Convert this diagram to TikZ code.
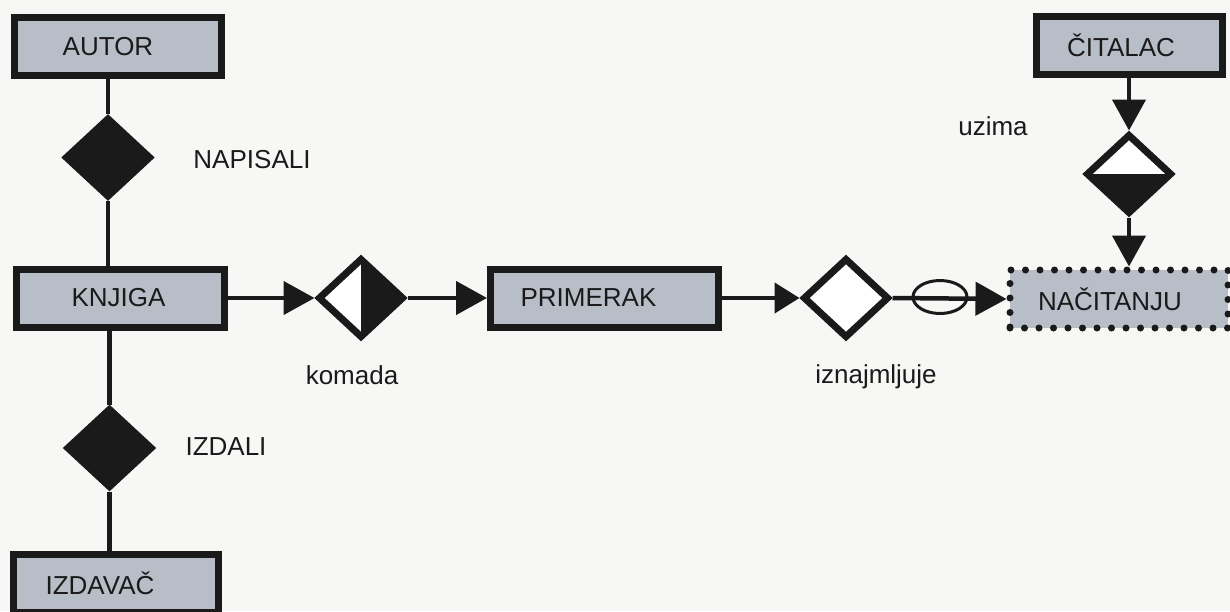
\documentclass[tikz,border=0pt]{standalone}
\usepackage{fontspec}
\setmainfont{Liberation Sans}
\usetikzlibrary{shapes.geometric,arrows.meta}
\definecolor{boxfill}{HTML}{B8BEC7}
\definecolor{ink}{HTML}{1A1A1A}
\definecolor{paper}{HTML}{F7F7F5}
\begin{document}
\begin{tikzpicture}[x=1pt,y=-1pt,
  every node/.style={font=\fontsize{26}{30}\selectfont, text=ink},
  entity/.style={rectangle, draw=ink, fill=boxfill, line width=7pt, inner sep=0pt, minimum height=58pt},
  weakent/.style={rectangle, draw=ink, fill=boxfill, line width=7pt, dash pattern=on 0pt off 14.5pt, line cap=round, inner sep=0pt, minimum height=58pt},
  rel/.style={diamond, draw=ink, line width=7pt, inner sep=0pt, minimum width=86pt, minimum height=80pt},
  blackrel/.style={rel, fill=ink},
  rightblack/.style={rel, fill=white, path picture={\fill[ink] (path picture bounding box.north) rectangle (path picture bounding box.south east);}},
  bottomblack/.style={rel, fill=white, path picture={\fill[ink] (path picture bounding box.west) rectangle (path picture bounding box.south east);}},
  conn/.style={draw=ink, line width=4.5pt},
  arr/.style={conn, -{Triangle[length=31pt,width=33pt]}},
  arrsmall/.style={conn, -{Triangle[length=25pt,width=30pt]}},
  lbl/.style={inner sep=0pt, anchor=base}
]
\useasboundingbox[fill=paper] (0,0) rectangle (1230,611);

% entities
\node[entity, minimum width=207pt] (autor) at (118,46.5) {AUTOR\hspace*{20pt}};
\node[entity, minimum width=208pt] (knjiga) at (120.5,298) {KNJIGA\hspace*{4pt}};
\node[entity, minimum width=205pt] (izdavac) at (116,583) {IZDAVAČ\hspace*{32pt}};
\node[entity, minimum width=228pt] (primerak) at (604.5,298) {PRIMERAK\hspace*{32pt}};
\node[entity, minimum width=186pt] (citalac) at (1129,45) {ČITALAC\hspace*{16pt}};
\node[weakent, minimum width=218pt] (nacitanju) at (1119,299) {NAČITANJU\hspace*{18pt}};

% relationships
\node[blackrel] (napisali) at (108,157.5) {};
\node[blackrel] (izdali) at (109.5,448) {};
\node[rightblack] (komada) at (361,298) {};
\node[rel, fill=white] (izn) at (846,298) {};
\node[bottomblack] (uzima) at (1129,174) {};
\node[ellipse, draw=ink, line width=3pt, minimum width=54pt, minimum height=33pt, inner sep=0pt] (opt) at (940,297) {};

% labels
\node[lbl] (tnapisali) at (252,168) {NAPISALI};
\node[lbl] (tizdali) at (226,455) {IZDALI};
\node[lbl] (tkomada) at (352,384) {komada};
\node[lbl] (tizn) at (876,383) {iznajmljuje};
\node[lbl] (tuzima) at (993,135) {uzima};

% connectors
\draw[conn] (napisali.north) -- (napisali.north |- autor.south);
\draw[conn] (napisali.south) -- (napisali.south |- knjiga.north);
\draw[conn] (izdali.north) -- (izdali.north |- knjiga.south);
\draw[conn] (izdali.south) -- (izdali.south |- izdavac.north);
\draw[arr] (knjiga.east) -- (komada.west);
\draw[arr] (komada.east) -- (primerak.west);
\draw[arrsmall] (primerak.east) -- (izn.west);
\draw[arr] (izn.east) -- (nacitanju.west);
\draw[arr] (citalac.south) -- (uzima.north);
\draw[arr] (uzima.south) -- (uzima.south |- nacitanju.north);
\end{tikzpicture}
\end{document}
